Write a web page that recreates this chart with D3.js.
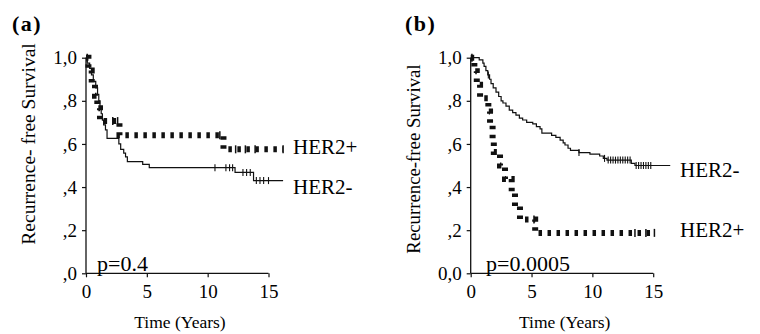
<!DOCTYPE html>
<html><head><meta charset="utf-8">
<script src="https://cdn.jsdelivr.net/npm/d3@7"></script>
<style>body{margin:0;background:#fff}svg{display:block}text{font-family:"Liberation Serif","Times New Roman",serif;fill:#000}</style>
</head><body><svg id="c" width="760" height="334"></svg>
<script>
// ---- data ----
const panelLabels = ["(a)", "(b)"];
const pValues = ["p=0.4", "p=0.0005"];
const xTicks = [0, 5, 10, 15];
const yTicks = [1.0, 0.8, 0.6, 0.4, 0.2, 0.0];
const yTickLabelsA = ["1,0", ",8", ",6", ",4", ",2", ",0"];
const yTickLabelsB = ["1,0", ",8", ",6", ",4", ",2", "0,0"];
const yTitles = ["Recurrence- free Survival", "Recurrence-free Survival"];
const xTitle = "Time (Years)";
const seriesNames = ["HER2+", "HER2-"];

// panel (a)
const aNegSteps = [[0,1],[0.1,0.975],[0.3,0.95],[0.45,0.92],[0.6,0.89],[0.8,0.86],[0.95,0.83],[1.05,0.80],[1.15,0.77],[1.25,0.74],[1.35,0.71],[1.45,0.688],[1.6,0.665],[1.73,0.626],[2.7,0.6],[2.85,0.575],[3.1,0.557],[3.25,0.54],[3.4,0.518],[4.66,0.505],[5.2,0.49],[12.25,0.468],[13.77,0.43]];
const aNegEnd = 16.2;
const aNegCensor = [10.6, 11.5, 11.8, 12.05, 12.9, 13.2, 13.5, 14.0, 14.3, 14.6, 15.0];
const aPosSteps = [[0,1],[0.2,0.941],[0.47,0.882],[0.74,0.824],[0.93,0.765],[1.15,0.706],[2.75,0.64],[11.3,0.575]];
const aPosEnd = 16.2;
const aPosCensor = [0.1, 2.2, 2.6, 11.0, 12.3, 13.1, 13.9, 16.2];

// panel (b)
const bNegSteps = [[0,1],[0.7,0.99],[1.0,0.975],[1.1,0.96],[1.25,0.94],[1.4,0.92],[1.55,0.90],[1.67,0.88],[1.85,0.86],[2.08,0.84],[2.3,0.82],[2.5,0.80],[2.65,0.79],[2.9,0.775],[3.17,0.757],[3.45,0.745],[3.72,0.734],[4.0,0.72],[4.27,0.711],[4.6,0.70],[5.1,0.693],[5.4,0.68],[5.7,0.67],[5.85,0.65],[6.65,0.64],[7.0,0.63],[7.35,0.618],[7.6,0.605],[7.75,0.595],[8.0,0.58],[8.2,0.57],[8.9,0.56],[9.8,0.553],[10.6,0.544],[10.9,0.533],[11.2,0.525],[13.2,0.51],[13.5,0.50]];
const bNegEnd = 16.4;
const bNegCensor = [1.45, 8.9, 11.0, 11.3, 11.5, 11.7, 11.9, 12.1, 12.3, 12.5, 12.7, 12.9, 13.1, 13.6, 13.8, 14.0, 14.2, 14.4, 14.6, 14.8];
const bPosSteps = [[0,1],[0.3,0.9375],[0.5,0.875],[0.77,0.8125],[1.45,0.75],[1.59,0.6875],[1.8,0.625],[1.9,0.5625],[2.41,0.5],[2.82,0.4375],[3.37,0.375],[3.64,0.3125],[4.05,0.25],[5.3,0.1875]];
const bPosEnd = 15.1;
const bPosCensor = [0.1, 5.2, 13.5, 14.4, 15.1];

// ---- drawing ----
const svg = d3.select("#c");
const ink = "#111";

function stepValue(steps, t){
  let v = steps[0][1];
  for (const s of steps){ if (s[0] <= t) v = s[1]; }
  return v;
}

function drawPanel(cfg){
  const g = svg.append("g");
  const x = d3.scaleLinear().domain([0, 15]).range([cfg.x0, cfg.x0 + 182.5]);
  const y = d3.scaleLinear().domain([0, 1]).range([273.3, 57.7]);

  // axes
  const yAx = d3.axisLeft(y).tickValues(yTicks).tickSize(4).tickFormat((d,i)=>cfg.yLabels[i]);
  const ga = g.append("g").attr("transform", `translate(${cfg.x0},0)`).call(yAx);
  const xAx = d3.axisBottom(x).tickValues(xTicks).tickSize(4).tickFormat(d=>d);
  const gx = g.append("g").attr("transform", "translate(0,273.3)").call(xAx);
  [ga, gx].forEach(a=>{
    a.attr("font-family", null);
    a.select(".domain").attr("stroke", ink).attr("stroke-width", 1.3);
    a.selectAll(".tick line").attr("stroke", ink).attr("stroke-width", 1.2);
    a.selectAll("text").attr("font-size", 19).attr("fill", "#000");
  });
  ga.selectAll("text").attr("x", -9);
  gx.selectAll("text").attr("y", 11);
  ga.select(".domain").attr("d", `M0,${y(1)}V${y(0)}`);
  gx.select(".domain").attr("d", `M${x(0)},0H${x(15)}`);

  const line = d3.line().x(d=>x(d[0])).y(d=>y(d[1])).curve(d3.curveStepAfter);

  // HER2- thin line
  const negPts = cfg.neg.concat([[cfg.negEnd, cfg.neg[cfg.neg.length-1][1]]]);
  g.append("path").attr("d", line(negPts)).attr("fill","none").attr("stroke", ink).attr("stroke-width", 1.2);
  g.selectAll(null).data(cfg.negC).enter().append("line")
    .attr("x1", d=>x(d)).attr("x2", d=>x(d))
    .attr("y1", d=>y(stepValue(cfg.neg,d))-3.5).attr("y2", d=>y(stepValue(cfg.neg,d))+3.5)
    .attr("stroke", ink).attr("stroke-width", 1.1);

  // HER2+ thick dashed
  const posPts = cfg.pos.concat([[cfg.posEnd, cfg.pos[cfg.pos.length-1][1]]]);
  g.append("path").attr("d", line(posPts)).attr("fill","none").attr("stroke", ink)
    .attr("stroke-width", 6).attr("stroke-dasharray", "3.5,5.5");
  g.selectAll(null).data(cfg.posC).enter().append("line")
    .attr("x1", d=>x(d)).attr("x2", d=>x(d))
    .attr("y1", d=>y(stepValue(cfg.pos,d))-4).attr("y2", d=>y(stepValue(cfg.pos,d))+4)
    .attr("stroke", ink).attr("stroke-width", 1.5);

  // texts
  g.append("text").attr("x", cfg.labelX).attr("y", 31).attr("font-size", 22).attr("font-weight","bold")
    .attr("letter-spacing", 1.5).text(cfg.panel);
  g.append("text").attr("x", cfg.pX).attr("y", 271).attr("font-size", 22).text(cfg.p);
  g.append("text").attr("x", cfg.negLX).attr("y", cfg.negLY).attr("font-size", 21).text(seriesNames[1]);
  g.append("text").attr("x", cfg.posLX).attr("y", cfg.posLY).attr("font-size", 21).text(seriesNames[0]);
  g.append("text").attr("transform", `translate(${cfg.titleX},${cfg.titleY}) rotate(-90)`)
    .attr("text-anchor","middle").attr("font-size", cfg.titleSize).text(cfg.yTitle);
  g.append("text").attr("x", cfg.x0 + 94).attr("y", 328).attr("text-anchor","middle").attr("font-size", 17.5).text(xTitle);
}

drawPanel({x0: 86, yLabels: yTickLabelsA, neg: aNegSteps, negEnd: aNegEnd, negC: aNegCensor,
  pos: aPosSteps, posEnd: aPosEnd, posC: aPosCensor, panel: panelLabels[0], labelX: 12, p: pValues[0], pX: 97,
  negLX: 293, negLY: 193.5, posLX: 293, posLY: 153.5, yTitle: yTitles[0], titleX: 35, titleY: 144, titleSize: 19.5});
drawPanel({x0: 470.7, yLabels: yTickLabelsB, neg: bNegSteps, negEnd: bNegEnd, negC: bNegCensor,
  pos: bPosSteps, posEnd: bPosEnd, posC: bPosCensor, panel: panelLabels[1], labelX: 405, p: pValues[1], pX: 486,
  negLX: 680, negLY: 176.5, posLX: 680, posLY: 236.5, yTitle: yTitles[1], titleX: 420, titleY: 159, titleSize: 18.8});
</script></body></html>
